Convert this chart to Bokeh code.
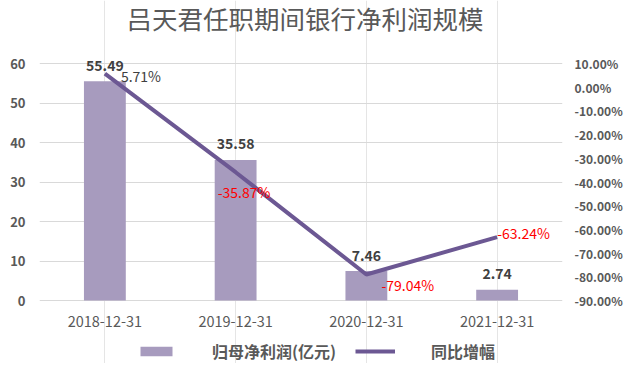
from bokeh.plotting import figure
from bokeh.models import (ColumnDataSource, Range1d, FactorRange, LinearAxis, LabelSet, Label,
                          PrintfTickFormatter, FixedTicker, Legend, LegendItem)
from bokeh.core.properties import value
from bokeh.embed import file_html
from bokeh.resources import INLINE

categories = ["2018-12-31", "2019-12-31", "2020-12-31", "2021-12-31"]
profit = [55.49, 35.58, 7.46, 2.74]          # 归母净利润(亿元)
growth = [5.71, -35.87, -79.04, -63.24]      # 同比增幅 (%)
growth_labels = ["5.71%", "-35.87%", "-79.04%", "-63.24%"]
profit_labels = ["55.49", "35.58", "7.46", "2.74"]
left_ticks = [0, 10, 20, 30, 40, 50, 60]
right_ticks = [-90, -80, -70, -60, -50, -40, -30, -20, -10, 0, 10]

FONT = "Noto Sans CJK SC"
BAR_COLOR = "#A79BBE"
LINE_COLOR = "#6C5893"
TXT = "#595959"

# layout in picture pixels: canvas top-left lands at (1, 1); value axes map to 64..301
W, H = 625, 363
OX, OY = 1, 1
TOP_PX, BOT_PX = OY, OY + H
Y0_PX, Y1_PX = 301, 64
FRAME_L, FRAME_R = 40, 566
lpp = (left_ticks[-1] - left_ticks[0]) / (Y0_PX - Y1_PX)
rpp = (right_ticks[-1] - right_ticks[0]) / (Y0_PX - Y1_PX)
def ly(px):
    return left_ticks[0] + (Y0_PX - px) * lpp
def ry(px):
    return right_ticks[0] + (Y0_PX - px) * rpp

p = figure(width=W, height=H, x_range=FactorRange(*categories),
           y_range=Range1d(ly(BOT_PX), ly(TOP_PX)), x_axis_location=None,
           output_backend="svg", toolbar_location=None,
           min_border_left=FRAME_L - OX, min_border_right=OX + W - FRAME_R,
           min_border_top=0, min_border_bottom=0)
p.extra_y_ranges = {"pct": Range1d(ry(BOT_PX), ry(TOP_PX))}
p.outline_line_color = None
p.background_fill_color = "white"
p.border_fill_color = "white"

src = ColumnDataSource(dict(cat=categories, profit=profit, growth=growth,
                            plab=profit_labels, glab=growth_labels,
                            gcol=["#404040", "#FF0000", "#FF0000", "#FF0000"],
                            gxo=[16, -18, 15, 0], gyo=[-2, -20, -10, 4]))

bars = p.vbar(x="cat", top="profit", width=0.32, source=src, fill_color=BAR_COLOR, line_color=None)
line = p.line(x="cat", y="growth", source=src, y_range_name="pct", line_color=LINE_COLOR,
              line_width=4)

# axes
p.yaxis.ticker = FixedTicker(ticks=left_ticks)
p.yaxis.axis_line_color = None
p.yaxis.major_tick_line_color = None
p.yaxis.minor_tick_line_color = None
p.yaxis.major_tick_out = 0
p.yaxis.major_tick_in = 0
p.yaxis.major_label_text_font = FONT
p.yaxis.major_label_text_font_style = "bold"
p.yaxis.major_label_text_font_size = "13px"
p.yaxis.major_label_text_color = TXT
p.yaxis.major_label_standoff = 14

ax2 = LinearAxis(y_range_name="pct", ticker=FixedTicker(ticks=right_ticks),
                 formatter=PrintfTickFormatter(format="%.2f%%"))
ax2.axis_line_color = None
ax2.major_tick_line_color = None
ax2.minor_tick_line_color = None
ax2.major_tick_out = 0
ax2.major_tick_in = 0
ax2.major_label_text_font = FONT
ax2.major_label_text_font_style = "bold"
ax2.major_label_text_font_size = "12px"
ax2.major_label_text_color = TXT
ax2.major_label_standoff = 12
p.add_layout(ax2, "right")

p.ygrid.grid_line_color = "#D9D9D9"
p.ygrid.ticker = FixedTicker(ticks=left_ticks)

# category labels (x axis)
p.add_layout(LabelSet(x="cat", y=left_ticks[0], text="cat", source=src, text_align="center",
                      text_baseline="middle", y_offset=-21, text_font=value(FONT),
                      text_font_size="14.5px", text_color=TXT))

# data labels
p.add_layout(LabelSet(x="cat", y="profit", text="plab", source=src, text_align="center",
                      text_baseline="middle", y_offset=16, text_font=value(FONT),
                      text_font_style="bold", text_font_size="14px", text_color="#404040"))
p.add_layout(LabelSet(x="cat", y="growth", text="glab", source=src, y_range_name="pct",
                      text_align="left", text_baseline="middle", x_offset="gxo", y_offset="gyo",
                      text_font=value(FONT), text_font_size="14px", text_color="gcol"))

# title
p.add_layout(Label(x=len(categories) / 2, y=ly(18), x_offset=4, text="吕天君任职期间银行净利润规模",
                   text_align="center", text_baseline="middle", text_font=FONT,
                   text_font_size="25.5px", text_color=TXT))

legend = Legend(items=[LegendItem(label="归母净利润(亿元)", renderers=[bars]),
                       LegendItem(label="同比增幅", renderers=[line])],
                orientation="horizontal", location=(97, 0),
                glyph_width=40, glyph_height=12, label_standoff=36, spacing=19,
                label_text_font=FONT, label_text_font_style="bold", label_text_font_size="16px",
                label_text_color=TXT, border_line_color=None, background_fill_alpha=0,
                padding=0, margin=0)
p.add_layout(legend, "center")

open("out.html", "w").write(file_html(p, INLINE))
